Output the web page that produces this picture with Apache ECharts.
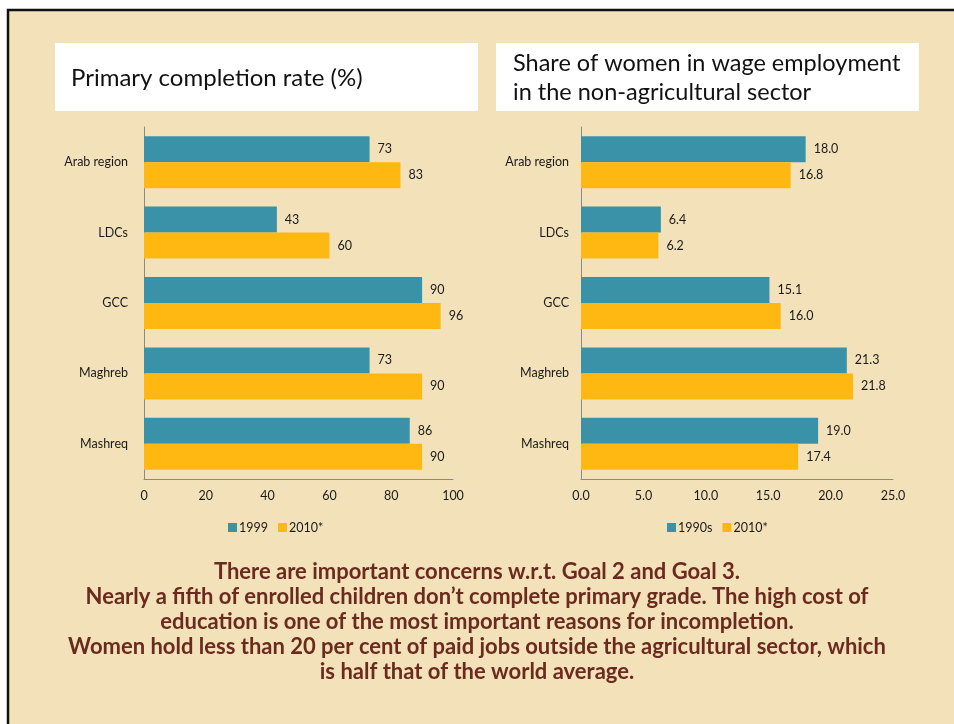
<!DOCTYPE html>
<html>
<head>
<meta charset="utf-8">
<script src="https://cdn.jsdelivr.net/npm/echarts@6/dist/echarts.min.js"></script>
<style>
  html, body { margin: 0; padding: 0; background: #ffffff; }
  #chart { width: 954px; height: 724px; }
</style>
</head>
<body>
<div id="chart"></div>
<script>
// Regions shown in both panels (top to bottom)
const regions = ['Arab region', 'LDCs', 'GCC', 'Maghreb', 'Mashreq'];

// Primary completion rate (%)
const completion1999 = [73, 43, 90, 73, 86];
const completion2010 = [83, 60, 96, 90, 90];

// Share of women in wage employment in the non-agricultural sector (%)
const womenShare1990s = [18.0, 6.4, 15.1, 21.3, 19.0];
const womenShare2010 = [16.8, 6.2, 16.0, 21.8, 17.4];

const leftTitle = 'Primary completion rate (%)';
const rightTitle = 'Share of women in wage employment\nin the non-agricultural sector';
const noteLines = [
  'There are important concerns w.r.t. Goal 2 and Goal 3.',
  'Nearly a fifth of enrolled children don\u2019t complete primary grade. The high cost of',
  'education is one of the most important reasons for incompletion.',
  'Women hold less than 20 per cent of paid jobs outside the agricultural sector, which',
  'is half that of the world average.'
];

const TEAL = '#3a92a9';
const GOLD = '#ffb812';
const FONT = 'Lato, "Open Sans", sans-serif';
const INK = '#1a1a1a';

const chart = echarts.init(document.getElementById('chart'), null, { renderer: 'canvas' });

function valueAxis(gridIndex, max, interval, decimals) {
  return {
    type: 'value', gridIndex, min: 0, max, interval,
    axisLine: { show: true, lineStyle: { color: '#8a8a8a', width: 1 } },
    axisTick: { show: false },
    splitLine: { show: false },
    axisLabel: {
      color: INK, fontFamily: FONT, fontSize: 12.5, margin: 10,
      formatter: v => v.toFixed(decimals)
    }
  };
}
function categoryAxis(gridIndex, margin) {
  return {
    type: 'category', gridIndex, data: regions, inverse: true,
    axisLine: { show: true, lineStyle: { color: '#8a8a8a', width: 1 } },
    axisTick: { show: false },
    axisLabel: { color: INK, fontFamily: FONT, fontSize: 12.5, margin }
  };
}
function barSeries(name, data, color, axisIndex, decimals) {
  return {
    type: 'bar', name, data,
    xAxisIndex: axisIndex, yAxisIndex: axisIndex,
    barWidth: 26, barGap: '0%',
    itemStyle: { color },
    label: {
      show: true, position: 'right', distance: 8,
      color: INK, fontFamily: FONT, fontSize: 12.5,
      formatter: p => p.value.toFixed(decimals)
    },
    emphasis: { disabled: true }
  };
}

chart.setOption({
  backgroundColor: '#ffffff',
  animation: false,
  grid: [
    { left: 144, top: 127, width: 309, height: 352, containLabel: false },
    { left: 581, top: 127, width: 312, height: 352, containLabel: false }
  ],
  xAxis: [valueAxis(0, 100, 20, 0), valueAxis(1, 25, 5, 1)],
  yAxis: [categoryAxis(0, 16), categoryAxis(1, 12)],
  legend: [
    {
      data: ['1999', '2010*'], left: 223, top: 516,
      itemWidth: 9, itemHeight: 9, itemGap: 10, icon: 'rect',
      textStyle: { color: INK, fontFamily: FONT, fontSize: 12.5, padding: [0, 0, 0, -3] }
    },
    {
      data: ['1990s', '2010* '], left: 662, top: 516,
      itemWidth: 9, itemHeight: 9, itemGap: 10, icon: 'rect',
      textStyle: { color: INK, fontFamily: FONT, fontSize: 12.5, padding: [0, 0, 0, -3] }
    }
  ],
  series: [
    barSeries('1999', completion1999, TEAL, 0, 0),
    barSeries('2010*', completion2010, GOLD, 0, 0),
    barSeries('1990s', womenShare1990s, TEAL, 1, 1),
    barSeries('2010* ', womenShare2010, GOLD, 1, 1)
  ],
  graphic: [
    // slide background and frame
    { type: 'rect', z: -10, silent: true,
      shape: { x: 8, y: 10, width: 960, height: 730 },
      style: { fill: '#f3e2b9', stroke: '#111111', lineWidth: 2.5 } },
    // title panels
    { type: 'rect', z: -5, silent: true,
      shape: { x: 55, y: 43, width: 423, height: 68 },
      style: { fill: '#ffffff' } },
    { type: 'rect', z: -5, silent: true,
      shape: { x: 496, y: 43, width: 423, height: 68 },
      style: { fill: '#ffffff' } },
    { type: 'text', silent: true, x: 71, y: 78,
      style: { text: leftTitle, fill: '#111111', font: '24px ' + FONT,
               verticalAlign: 'middle', align: 'left' } },
    { type: 'text', silent: true, x: 513, y: 49,
      style: { text: rightTitle, fill: '#111111', font: '23.5px ' + FONT,
               lineHeight: 29, verticalAlign: 'top', align: 'left' } },
    // commentary below the charts
    { type: 'text', silent: true, x: 477, y: 559,
      style: { text: noteLines.join('\n'), fill: '#6b2a1e',
               font: 'bold 22px ' + FONT, lineHeight: 25,
               align: 'center', verticalAlign: 'top' } }
  ]
});
</script>
</body>
</html>
